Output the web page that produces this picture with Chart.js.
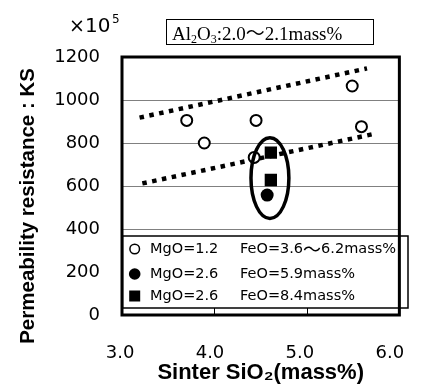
<!DOCTYPE html>
<html><head><meta charset="utf-8">
<script src="https://cdn.jsdelivr.net/npm/chart.js@4"></script>
<style>html,body{margin:0;padding:0;background:#fff}#wrap{width:425px;height:392px;position:relative}</style>
</head><body><div id="wrap"><canvas id="c" width="425" height="392"></canvas></div>
<script>
// ---- data ----
const xTicks = [3.0, 4.0, 5.0, 6.0];
const yTicks = [0, 200, 400, 600, 800, 1000, 1200];
const mgo12_x = [3.70, 3.89, 4.45, 4.43, 5.49, 5.59];
const mgo12_y = [905, 800, 905, 733, 1065, 876];
const mgo26fe59_x = [4.57];
const mgo26fe59_y = [558];
const mgo26fe84_x = [4.61, 4.61];
const mgo26fe84_y = [755, 628];
const trendUpper_x = [3.19, 5.65];
const trendUpper_y = [918, 1147];
const trendLower_x = [3.22, 5.70];
const trendLower_y = [612, 840];
const highlight = [4.60, 637, 0.205, 188]; // centre x, centre y, half-width x, half-height y (data units)
const legendMgO = ["MgO=1.2", "MgO=2.6", "MgO=2.6"];
const legendFeO = ["FeO=3.6～6.2mass%", "FeO=5.9mass%", "FeO=8.4mass%"];
const yTitle = "Permeability resistance : KS";
const xTitle = "Sinter SiO₂(mass%)";

const pts = (xs, ys) => xs.map((x, i) => ({x, y: ys[i]}));

const extras = {
  id: 'extras',
  afterDatasetsDraw(chart) {
    const {ctx, chartArea: a, scales: {x, y}} = chart;
    ctx.save();
    // highlight ellipse
    const cx = x.getPixelForValue(highlight[0]), cy = y.getPixelForValue(highlight[1]);
    const rx = Math.abs(x.getPixelForValue(highlight[0] + highlight[2]) - cx);
    const ry = Math.abs(y.getPixelForValue(highlight[1] + highlight[3]) - cy);
    ctx.beginPath(); ctx.ellipse(cx, cy, rx, ry, 0, 0, Math.PI * 2);
    ctx.lineWidth = 3.5; ctx.strokeStyle = '#000'; ctx.stroke();

    // legend box
    const L = 122.5, T = 236, R = 408, B = 308;
    ctx.fillStyle = '#fff'; ctx.fillRect(L, T, R - L, B - T);
    ctx.lineWidth = 1.5; ctx.strokeStyle = '#000'; ctx.strokeRect(L, T, R - L, B - T);
    const rows = [249, 274, 296], mx = 134.7;
    ctx.fillStyle = '#000';
    ctx.beginPath(); ctx.arc(mx, rows[0], 4.8, 0, Math.PI * 2); ctx.lineWidth = 1.5; ctx.stroke();
    ctx.beginPath(); ctx.arc(mx, rows[1], 5.8, 0, Math.PI * 2); ctx.fill();
    ctx.fillRect(mx - 5.5, rows[2] - 5.5, 11, 11);
    ctx.textBaseline = 'middle'; ctx.textAlign = 'left';
    rows.forEach((ry2, i) => {
      ctx.font = "14.5px 'DejaVu Sans'";
      ctx.fillText(legendMgO[i], 150, ry2);
      // FeO part: draw piece by piece so the wide tilde keeps its width
      let fx = 240;
      legendFeO[i].split(/(～)/).forEach(p => {
        if (!p) return;
        if (p === '～') { ctx.font = "18px 'Noto Sans CJK JP'"; }
        else { ctx.font = "14.5px 'DejaVu Sans'"; }
        ctx.fillText(p, fx, ry2);
        fx += ctx.measureText(p).width;
      });
    });

    // inner ticks on bottom axis
    ctx.lineWidth = 1; ctx.beginPath();
    xTicks.slice(1, -1).forEach(v => {
      const px = Math.round(x.getPixelForValue(v)) + 0.5;
      ctx.moveTo(px, B); ctx.lineTo(px, a.bottom);
    });
    ctx.stroke();

    // frame
    ctx.lineWidth = 3; ctx.strokeRect(a.left, a.top, a.right - a.left, a.bottom - a.top);

    // x10^5
    ctx.textBaseline = 'alphabetic';
    ctx.font = "19px 'DejaVu Sans'";
    ctx.fillText('×', 69, 32);
    ctx.font = "20px 'DejaVu Sans'";
    ctx.fillText('10', 85, 32);
    ctx.font = "12px 'DejaVu Sans'";
    ctx.fillText('5', 112, 23);

    // note box
    ctx.lineWidth = 1; ctx.strokeRect(166.5, 19.5, 207, 25);
    let tx = 172; const base = 40;
    const big = "19px 'Liberation Serif', 'Noto Sans CJK JP'", small = "12px 'Liberation Serif'";
    const parts = [['Al', big, 0], ['2', small, 3], ['O', big, 0], ['3', small, 3], [':2.0～2.1mass%', big, 0]];
    parts.forEach(([t, f, dy]) => { ctx.font = f; ctx.fillText(t, tx, base + dy); tx += ctx.measureText(t).width; });
    ctx.restore();
  }
};

new Chart(document.getElementById('c'), {
  type: 'scatter',
  data: {
    datasets: [
      {label: 'MgO=2.6 FeO=8.4mass%', data: pts(mgo26fe84_x, mgo26fe84_y), pointStyle: 'rect', pointRadius: 8.7, backgroundColor: '#000', borderColor: '#000', borderWidth: 0},
      {label: 'MgO=2.6 FeO=5.9mass%', data: pts(mgo26fe59_x, mgo26fe59_y), pointStyle: 'circle', pointRadius: 6.5, backgroundColor: '#000', borderColor: '#000', borderWidth: 0},
      {label: 'MgO=1.2 FeO=3.6～6.2mass%', data: pts(mgo12_x, mgo12_y), pointStyle: 'circle', pointRadius: 5.5, backgroundColor: '#fff', borderColor: '#000', borderWidth: 2},
      {label: 'upper', data: pts(trendUpper_x, trendUpper_y), showLine: true, pointRadius: 0, borderColor: '#000', borderWidth: 4.5, borderDash: [4.5, 5.5], borderCapStyle: 'butt'},
      {label: 'lower', data: pts(trendLower_x, trendLower_y), showLine: true, pointRadius: 0, borderColor: '#000', borderWidth: 4.5, borderDash: [4.5, 5.5], borderCapStyle: 'butt'}
    ]
  },
  options: {
    responsive: false, animation: false, devicePixelRatio: 1,
    layout: {padding: {top: 57, right: 13, left: 0, bottom: 0}},
    plugins: {legend: {display: false}, tooltip: {enabled: false}},
    scales: {
      x: {type: 'linear', min: 3, max: 6, display: false},
      xl: {
        type: 'linear', position: 'bottom', min: 3.0213, max: 6.1064,
        afterBuildTicks: s => { s.ticks = xTicks.map(v => ({value: v})); },
        afterFit: s => { s.height = 77; },
        grid: {display: false}, border: {display: false},
        ticks: {color: '#000', font: {family: "'DejaVu Sans'", size: 18}, padding: 20, maxRotation: 0, callback: v => Number(v).toFixed(1)},
        title: {display: true, text: xTitle, color: '#000', font: {family: "'Liberation Sans', Arial", size: 22, weight: 'bold'}, padding: {top: 0, bottom: 6}}
      },
      y: {
        type: 'linear', min: 0, max: 1200,
        afterBuildTicks: s => { s.ticks = yTicks.map(v => ({value: v})); },
        afterFit: s => { s.width = 122; },
        grid: {color: '#808080', lineWidth: 1, drawTicks: false}, border: {display: false},
        ticks: {color: '#000', font: {family: "'DejaVu Sans'", size: 18}, padding: 22, callback: v => String(v)},
        title: {display: true, text: yTitle + '       ', color: '#000', font: {family: "'Liberation Sans', Arial", size: 20.5, weight: 'bold'}, padding: {top: 16, bottom: 0}}
      }
    }
  },
  plugins: [extras]
});
</script></body></html>
